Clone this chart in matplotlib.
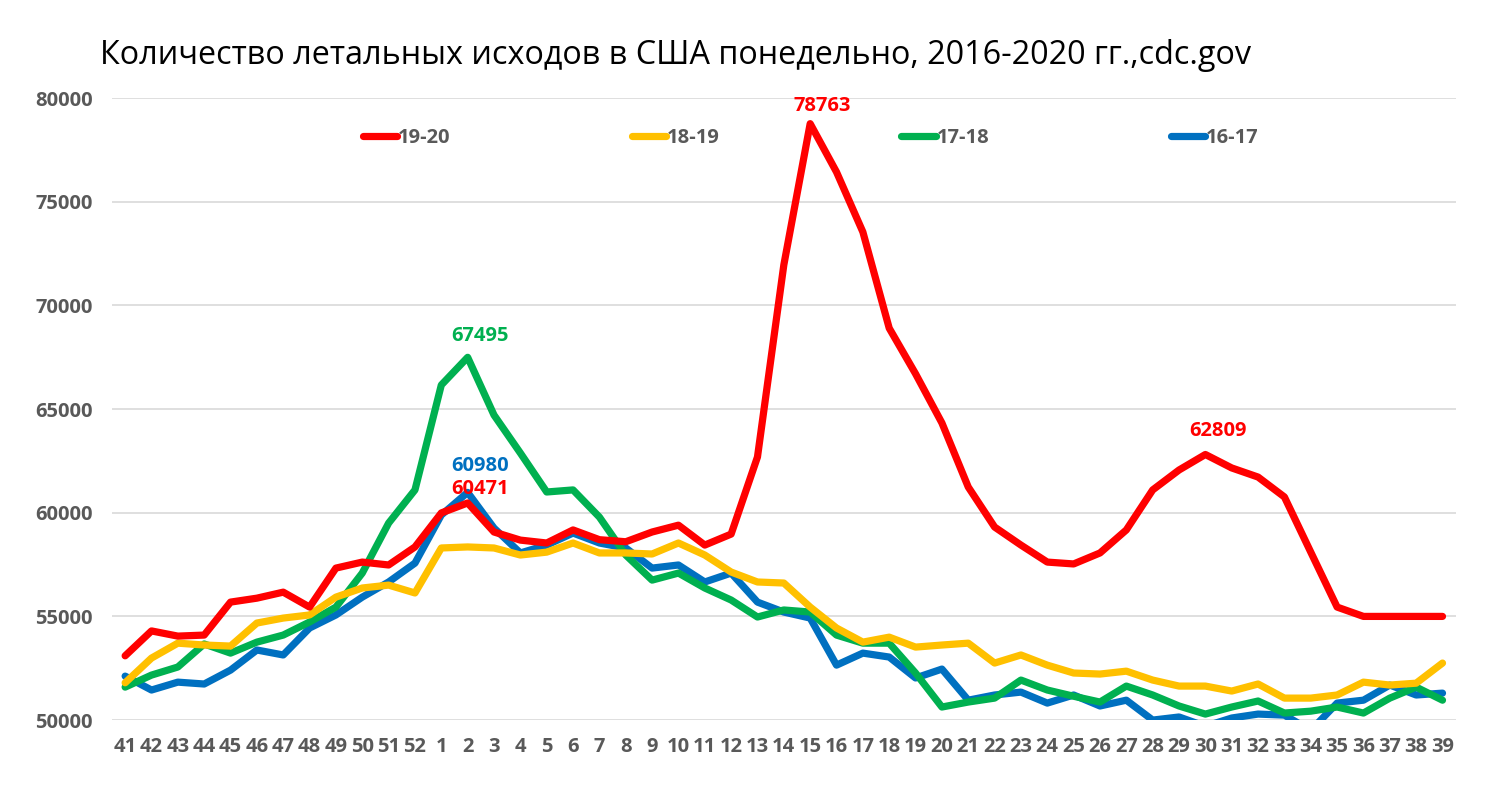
import matplotlib
matplotlib.use("Agg")
import matplotlib.pyplot as plt

# weeks 41..52 then 1..39
weeks = [str(w) for w in range(41, 53)] + [str(w) for w in range(1, 40)]

s1920 = [53100, 54300, 54050, 54100, 55690, 55880, 56170, 55450, 57330, 57620,
         57480, 58350, 59990, 60471, 59070, 58680, 58540, 59170, 58700, 58600,
         59070, 59400, 58440, 58970, 62690, 71950, 78763, 76430, 73540, 68900,
         66700, 64330, 61240, 59310, 58440, 57620, 57530, 58060, 59170, 61100,
         62060, 62809, 62160, 61720, 60760, 58100, 55450, 55000, 55000, 55000, 55000]
s1819 = [51800, 52990, 53710, 53620, 53570, 54680, 54920, 55070, 55930, 56370,
         56510, 56130, 58300, 58350, 58300, 57960, 58100, 58540, 58060, 58060,
         58010, 58540, 57960, 57140, 56660, 56610, 55450, 54440, 53760, 54000,
         53520, 53620, 53710, 52750, 53140, 52650, 52270, 52220, 52360, 51930,
         51640, 51640, 51400, 51740, 51060, 51060, 51210, 51830, 51690, 51780, 52750]
s1718 = [51590, 52170, 52560, 53670, 53230, 53760, 54100, 54730, 55450, 57090,
         59500, 61100, 66160, 67495, 64710, 62880, 61000, 61100, 59790, 57960,
         56750, 57090, 56370, 55790, 54970, 55310, 55210, 54100, 53710, 53710,
         52270, 50630, 50870, 51060, 51930, 51450, 51150, 50870, 51640, 51210,
         50680, 50290, 50630, 50920, 50340, 50430, 50630, 50340, 51060, 51590, 50960]
s1617 = [52120, 51450, 51830, 51740, 52410, 53380, 53140, 54440, 55070, 55930,
         56660, 57570, 59890, 60980, 59260, 58060, 58440, 59020, 58540, 58300,
         57330, 57480, 56660, 57090, 55690, 55210, 54920, 52650, 53230, 53040,
         52030, 52460, 50960, 51210, 51350, 50820, 51210, 50680, 50960, 50000,
         50150, 49700, 50100, 50290, 50240, 49500, 50820, 50960, 51690, 51210, 51300]

series = [("19-20", s1920, "#FF0000"),
          ("18-19", s1819, "#FFC000"),
          ("17-18", s1718, "#00B050"),
          ("16-17", s1617, "#0070C0")]

# (series index, week index, label offset in px) of labelled points
labelled = [(0, 13, 14), (0, 26, 18), (0, 41, 23), (2, 13, 21), (3, 13, 26)]

plt.rcParams['font.family'] = ['Open Sans', 'DejaVu Sans']
grey = "#595959"

fig = plt.figure(figsize=(14.93, 8.10), dpi=100)
ax = fig.add_axes([0.075, 0.111, 0.900, 0.768])

x = list(range(len(weeks)))
for i in [3, 2, 1, 0]:
    name, vals, col = series[i]
    ax.plot(x, vals, color=col, lw=5.2, label=name, zorder=4 - i,
            solid_capstyle="round")

for si, wi, off in labelled:
    name, vals, col = series[si]
    ax.annotate(str(vals[wi]), (wi, vals[wi]), xytext=(9, off * 0.72),
                textcoords="offset points", ha="center", va="center",
                color=col, fontsize=14.5, fontweight="bold")

ax.set_xlim(-0.5, len(weeks) - 0.5)
ax.set_ylim(50000, 80000)
ax.set_yticks(range(50000, 80001, 5000))
ax.set_xticks(x)
ax.set_xticklabels(weeks)
ax.grid(axis="y", color="#D9D9D9", lw=1.2)
ax.set_axisbelow(True)
for sp in ax.spines.values():
    sp.set_visible(False)
ax.tick_params(length=0, labelsize=14.5, labelcolor=grey)
ax.tick_params(axis="x", pad=12)
ax.tick_params(axis="y", pad=14)
for lab in ax.get_xticklabels() + ax.get_yticklabels():
    lab.set_fontweight("bold")

handles, labels = ax.get_legend_handles_labels()
order = [labels.index(s[0]) for s in series]
leg = ax.legend([handles[k] for k in order], [labels[k] for k in order],
                ncol=4, loc="center", bbox_to_anchor=(0.52, 0.936), frameon=False,
                handlelength=1.7, handletextpad=0.05, columnspacing=9.0,
                prop={"size": 14.5, "weight": "bold"})
for t in leg.get_texts():
    t.set_color(grey)
for h in leg.legend_handles:
    h.set_solid_capstyle("round")

fig.text(0.067, 0.932, "Количество летальных исходов в США понедельно, 2016-2020 гг.,cdc.gov",
         fontsize=23.3, color="black", va="center", ha="left")

fig.savefig("out.png", dpi=100)
